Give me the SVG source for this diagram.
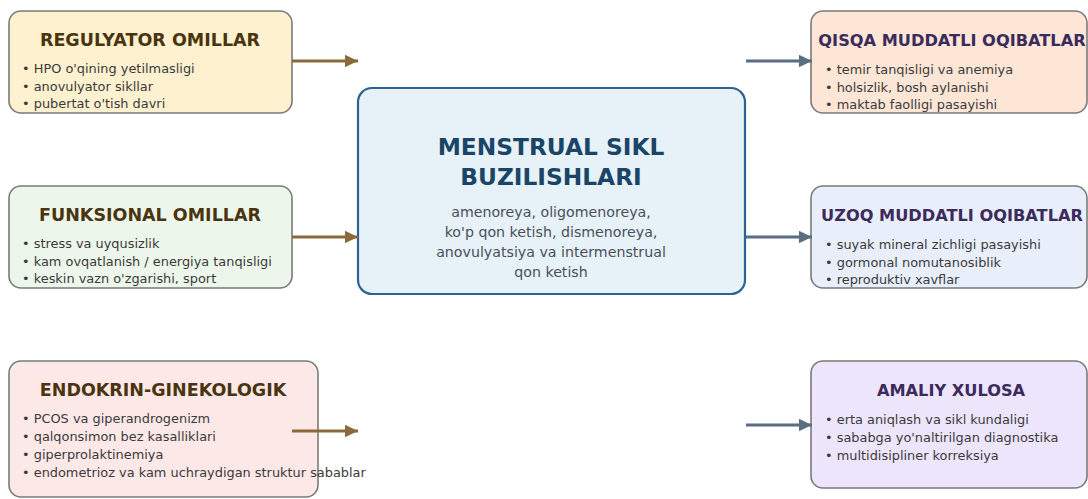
<svg xmlns="http://www.w3.org/2000/svg" width="1088" height="499" viewBox="0 0 1088 499">
<style>
.box{stroke:#7a7a7a;stroke-width:1.6}
.ttl{font-family:"DejaVu Sans",sans-serif;font-weight:bold;text-anchor:middle}
.lt{fill:#4a3410;font-size:17.5px}
.rt{fill:#3b2a5c;font-size:16.2px}
.item{font-family:"DejaVu Sans",sans-serif;font-size:12.9px;fill:#3a3a3a}
.ctitle{font-family:"DejaVu Sans",sans-serif;font-weight:bold;font-size:23.3px;fill:#1b4566;text-anchor:middle}
.cbody{font-family:"DejaVu Sans",sans-serif;font-size:14.2px;fill:#4a4f58;text-anchor:middle}
.al{stroke:#8a6a3a;stroke-width:3.2;fill:none}
.ar{stroke:#5b6d80;stroke-width:3.2;fill:none}
</style>
<defs>
<marker id="hb" markerWidth="5" markerHeight="4" refX="4.2" refY="2" orient="auto" markerUnits="strokeWidth"><path d="M0,0 L4.2,2 L0,4 z" fill="#8a6a3a"/></marker>
<marker id="hs" markerWidth="5" markerHeight="4" refX="4.2" refY="2" orient="auto" markerUnits="strokeWidth"><path d="M0,0 L4.2,2 L0,4 z" fill="#5b6d80"/></marker>
</defs>
<rect width="1088" height="499" fill="#ffffff"/>
<g id="regulyator">
<rect class="box" x="9" y="11" width="283" height="102" rx="12" fill="#fdf1cf"/>
<text class="ttl lt" x="150" y="46">REGULYATOR OMILLAR</text>
<text class="item" x="22" y="73">• HPO o'qining yetilmasligi</text>
<text class="item" x="22" y="91">• anovulyator sikllar</text>
<text class="item" x="22" y="108">• pubertat o'tish davri</text>
</g>
<g id="funksional">
<rect class="box" x="9" y="186" width="283" height="102" rx="12" fill="#edf6ea"/>
<text class="ttl lt" x="150" y="221">FUNKSIONAL OMILLAR</text>
<text class="item" x="22" y="248">• stress va uyqusizlik</text>
<text class="item" x="22" y="266">• kam ovqatlanish / energiya tanqisligi</text>
<text class="item" x="22" y="283">• keskin vazn o'zgarishi, sport</text>
</g>
<g id="endokrin">
<rect class="box" x="9" y="361" width="309" height="136" rx="12" fill="#fde8e8"/>
<text class="ttl lt" x="163" y="396">ENDOKRIN-GINEKOLOGIK</text>
<text class="item" x="22" y="423">• PCOS va giperandrogenizm</text>
<text class="item" x="22" y="441">• qalqonsimon bez kasalliklari</text>
<text class="item" x="22" y="459">• giperprolaktinemiya</text>
<text class="item" x="22" y="477">• endometrioz va kam uchraydigan struktur sabablar</text>
</g>
<g id="center">
<rect x="358" y="88" width="387" height="206" rx="14" fill="#e6f1f8" stroke="#2b6491" stroke-width="2.2"/>
<text class="ctitle" x="551" y="155">MENSTRUAL SIKL</text>
<text class="ctitle" x="551" y="185">BUZILISHLARI</text>
<text class="cbody" x="551" y="217">amenoreya, oligomenoreya,</text>
<text class="cbody" x="551" y="237">ko'p qon ketish, dismenoreya,</text>
<text class="cbody" x="551" y="257">anovulyatsiya va intermenstrual</text>
<text class="cbody" x="551" y="277">qon ketish</text>
</g>
<g id="qisqa">
<rect class="box" x="811" y="11" width="276" height="102" rx="12" fill="#fde6d6"/>
<text class="ttl rt" x="952" y="46">QISQA MUDDATLI OQIBATLAR</text>
<text class="item" x="825" y="74">• temir tanqisligi va anemiya</text>
<text class="item" x="825" y="92">• holsizlik, bosh aylanishi</text>
<text class="item" x="825" y="109">• maktab faolligi pasayishi</text>
</g>
<g id="uzoq">
<rect class="box" x="811" y="186" width="276" height="102" rx="12" fill="#e8eefa"/>
<text class="ttl rt" x="952" y="221">UZOQ MUDDATLI OQIBATLAR</text>
<text class="item" x="825" y="249">• suyak mineral zichligi pasayishi</text>
<text class="item" x="825" y="267">• gormonal nomutanosiblik</text>
<text class="item" x="825" y="284">• reproduktiv xavflar</text>
</g>
<g id="amaliy">
<rect class="box" x="811" y="361" width="276" height="127" rx="12" fill="#ede5fb"/>
<text class="ttl rt" x="951" y="396">AMALIY XULOSA</text>
<text class="item" x="825" y="424">• erta aniqlash va sikl kundaligi</text>
<text class="item" x="825" y="442">• sababga yo'naltirilgan diagnostika</text>
<text class="item" x="825" y="460">• multidisipliner korreksiya</text>
</g>
<g id="connectors">
<line class="al" x1="292" y1="61" x2="358" y2="61" marker-end="url(#hb)"/>
<line class="al" x1="292" y1="237" x2="358" y2="237" marker-end="url(#hb)"/>
<line class="al" x1="292" y1="431" x2="358" y2="431" marker-end="url(#hb)"/>
<line class="ar" x1="746" y1="61" x2="812" y2="61" marker-end="url(#hs)"/>
<line class="ar" x1="746" y1="237" x2="812" y2="237" marker-end="url(#hs)"/>
<line class="ar" x1="746" y1="425" x2="812" y2="425" marker-end="url(#hs)"/>
</g>
</svg>
